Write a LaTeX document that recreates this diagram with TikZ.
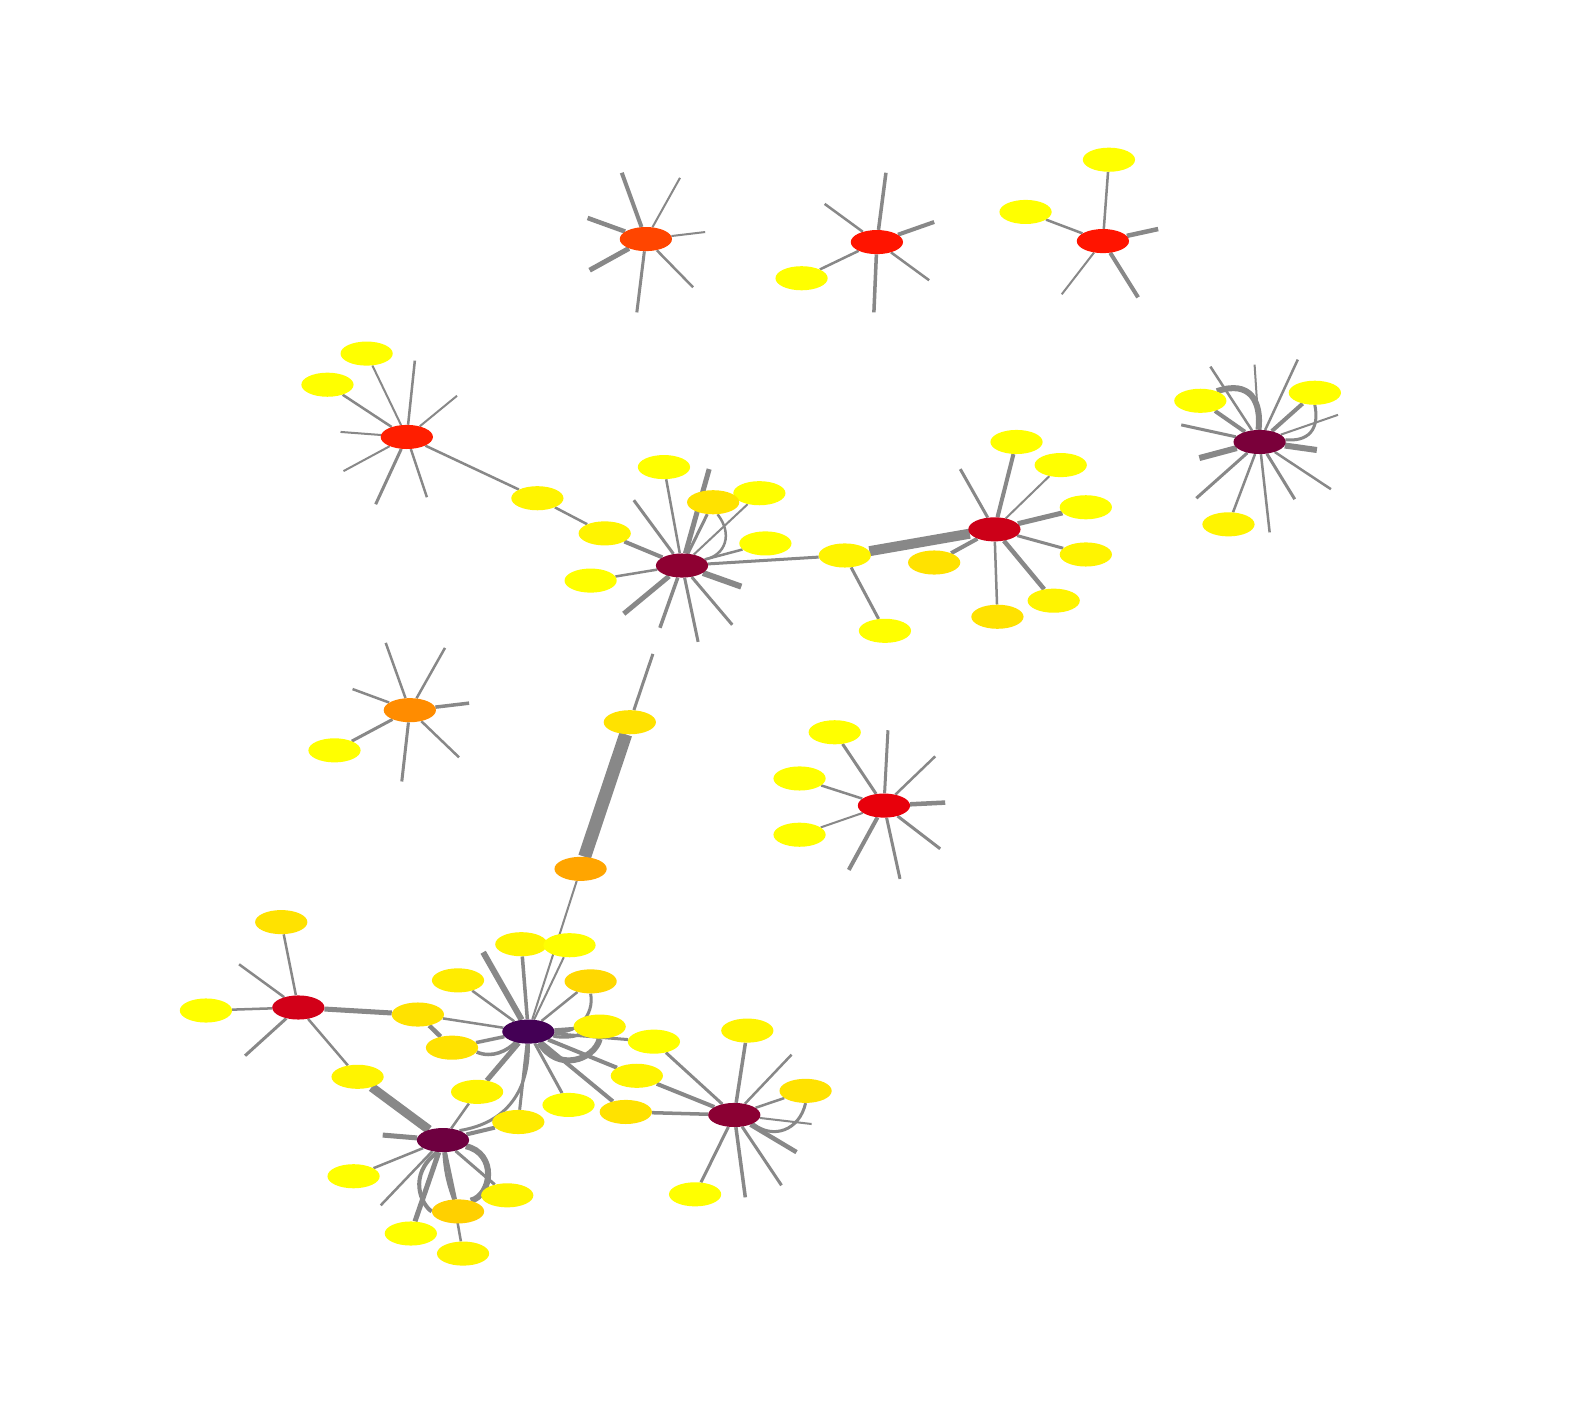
\documentclass[tikz,border=0pt]{standalone}
\usetikzlibrary{shapes.geometric,backgrounds}
\definecolor{edgec}{HTML}{888888}
\definecolor{cA}{HTML}{FF4500}
\definecolor{cB}{HTML}{FF1400}
\definecolor{cD}{HTML}{FF1E00}
\definecolor{cE}{HTML}{8E0032}
\definecolor{cG}{HTML}{CC0018}
\definecolor{cH}{HTML}{7A003A}
\definecolor{cI}{HTML}{FF8C00}
\definecolor{cJ}{HTML}{E8000B}
\definecolor{cK}{HTML}{D20018}
\definecolor{cF}{HTML}{440055}
\definecolor{cL}{HTML}{8B0033}
\definecolor{cM}{HTML}{6E0040}
\definecolor{yA}{HTML}{FFFF00}
\definecolor{yB}{HTML}{FFF400}
\definecolor{yC}{HTML}{FFEC00}
\definecolor{gA}{HTML}{FFE200}
\definecolor{gB}{HTML}{FFD800}
\definecolor{gC}{HTML}{FFD000}
\definecolor{oA}{HTML}{FFA500}
\newcommand\ed[3]{\draw[edge,line width=#1pt] (#2) -- (#3);}
\newcommand\fan[2]{\foreach \x/\y/\w [count=\i] in {#2} {\coordinate (#1x\i) at (\x,\y); \draw[edge,line width=\w pt] (#1) -- (#1x\i);}}
\begin{document}
\begin{tikzpicture}[x=1pt,y=-1pt,
  nd/.style={ellipse,minimum width=52pt,minimum height=24pt,inner sep=0pt,draw=none},
  edge/.style={draw=edgec}]
\useasboundingbox (0,0) rectangle (1568,1409);
% hubs
\node[nd,fill=cA] (A) at (643,238) {};
\node[nd,fill=cB] (B) at (873,241) {};
\node[nd,fill=cB] (C) at (1098,240) {};
\node[nd,fill=cD] (D) at (405,435) {};
\node[nd,fill=cE] (E) at (679,563) {};
\node[nd,fill=cG] (G) at (990,527) {};
\node[nd,fill=cH] (H) at (1254,440) {};
\node[nd,fill=cI] (I) at (408,707) {};
\node[nd,fill=cJ] (J) at (880,802) {};
\node[nd,fill=cK] (K) at (297,1003) {};
\node[nd,fill=cF] (F) at (526,1027) {};
\node[nd,fill=cL] (L) at (731,1110) {};
\node[nd,fill=cM] (M) at (441,1135) {};
% leaves
\node[nd,fill=yA] (b1) at (798,277) {};
\node[nd,fill=yA] (c1) at (1104,159) {};
\node[nd,fill=yA] (c2) at (1021,211) {};
\node[nd,fill=yA] (d1) at (365,352) {};
\node[nd,fill=yA] (d2) at (326,383) {};
\node[nd,fill=yB] (d3) at (535,496) {};
\node[nd,fill=yB] (e1) at (602,531) {};
\node[nd,fill=yA] (e2) at (661,465) {};
\node[nd,fill=yA] (e4) at (756,491) {};
\node[nd,fill=gA] (e3) at (710,500) {};
\node[nd,fill=yA] (e5) at (762,541) {};
\node[nd,fill=yA] (e6) at (588,578) {};
\node[nd,fill=yB] (g1) at (841,553) {};
\node[nd,fill=yA] (g2) at (1012,440) {};
\node[nd,fill=yA] (g3) at (1056,463) {};
\node[nd,fill=yA] (g4) at (1081,505) {};
\node[nd,fill=yB] (g5) at (1081,552) {};
\node[nd,fill=gA] (g6) at (930,560) {};
\node[nd,fill=gA] (g7) at (993,614) {};
\node[nd,fill=yB] (g8) at (1049,598) {};
\node[nd,fill=yA] (g9) at (881,628) {};
\node[nd,fill=yA] (h1) at (1195,399) {};
\node[nd,fill=yA] (h2) at (1309,391) {};
\node[nd,fill=yB] (h3) at (1223,522) {};
\node[nd,fill=gA] (f0) at (627,719) {};
\node[nd,fill=oA] (o1) at (578,865) {};
\node[nd,fill=yA] (i1) at (333,747) {};
\node[nd,fill=yA] (j1) at (831,729) {};
\node[nd,fill=yA] (j2) at (796,775) {};
\node[nd,fill=yA] (j3) at (796,831) {};
\node[nd,fill=gA] (k1) at (280,918) {};
\node[nd,fill=yA] (k2) at (205,1006) {};
\node[nd,fill=gA] (k3) at (416,1010) {};
\node[nd,fill=yB] (k4) at (356,1072) {};
\node[nd,fill=yB] (f1) at (519,940) {};
\node[nd,fill=yA] (f2) at (567,941) {};
\node[nd,fill=yC] (f3) at (456,976) {};
\node[nd,fill=gB] (f4) at (588,977) {};
\node[nd,fill=gA] (f5) at (450,1043) {};
\node[nd,fill=yB] (f6) at (597,1022) {};
\node[nd,fill=yA] (f7) at (651,1037) {};
\node[nd,fill=yB] (f8) at (634,1071) {};
\node[nd,fill=yB] (f9) at (475,1087) {};
\node[nd,fill=yA] (f10) at (566,1100) {};
\node[nd,fill=gA] (f11) at (623,1107) {};
\node[nd,fill=yC] (f12) at (516,1117) {};
\node[nd,fill=yB] (l1) at (744,1026) {};
\node[nd,fill=gA] (l2) at (802,1086) {};
\node[nd,fill=yA] (l3) at (692,1189) {};
\node[nd,fill=yA] (m1) at (352,1171) {};
\node[nd,fill=yA] (m2) at (409,1228) {};
\node[nd,fill=gC] (m3) at (456,1206) {};
\node[nd,fill=yB] (m4) at (461,1248) {};
\node[nd,fill=yB] (m5) at (505,1190) {};
\begin{pgfonlayer}{background}
\fill[white] (0,0) rectangle (1568,1409);
\fan{A}{619/172/4, 677/177/2, 585/217/4.5, 702/231/2, 587/269/5, 634/311/3, 690/286/2.5}
\fan{B}{882/172/3.5, 821/203/2.5, 930/221/4, 870/311/3.5, 925/279/2.5}
\ed{2.5}{B}{b1}
\fan{C}{1153/228/4.5, 1057/293/2, 1133/296/4}
\ed{2.5}{C}{c1} \ed{2.5}{C}{c2}
\fan{D}{413/359/2.5, 455/394/2, 339/430/2, 342/469/2, 374/502/3, 425/495/2.5}
\ed{2}{D}{d1} \ed{2.5}{D}{d2} \ed{2.5}{D}{d3}
\ed{2.5}{d3}{e1} \ed{4}{e1}{E}
\fan{E}{706/467/5, 631/498/3, 738/584/6, 729/622/3, 695/639/3, 657/625/3.5, 621/611/5}
\ed{2.5}{E}{e2} \ed{3}{E}{e3} \ed{2}{E}{e4} \ed{2.5}{E}{e5} \ed{3}{E}{g1} \ed{2.5}{E}{e6}
\draw[edge,line width=2.5pt] (e3.290) .. controls (730,532) and (722,553) .. (E.15);
\fan{f0}{650/651/3}
\ed{13}{f0}{o1} \ed{2}{o1}{F}
\fan{G}{956/467/3}
\ed{10}{g1}{G} \ed{4}{G}{g2} \ed{2}{G}{g3} \ed{5}{G}{g4} \ed{3}{G}{g5} \ed{4}{G}{g6} \ed{2.5}{G}{g7} \ed{4.5}{G}{g8} \ed{3}{g1}{g9}
\fan{H}{1205/365/2.5, 1249/363/2, 1292/358/2.5, 1176/423/3, 1332/413/2, 1194/456/6, 1311/448/6, 1191/496/3, 1289/497/3, 1325/487/2.5, 1264/530/2.5}
\ed{4}{H}{h1} \ed{4}{H}{h2} \ed{2.5}{H}{h3}
\draw[edge,line width=6pt] (h1.30) .. controls (1245,378) and (1256,400) .. (H.95);
\draw[edge,line width=3pt] (h2.270) .. controls (1314,428) and (1302,440) .. (H.5);
\fan{I}{384/640/2.5, 443/645/2.5, 351/686/2.5, 467/700/3.5, 400/778/3, 457/754/2.5}
\ed{3}{I}{i1}
\fan{J}{884/727/3, 931/753/2.5, 941/799/4.5, 936/845/3, 896/875/3, 845/866/4}
\ed{3}{J}{j1} \ed{2.5}{J}{j2} \ed{2}{J}{j3}
\fan{K}{238/960/2.5, 244/1051/3}
\ed{2.5}{K}{k1} \ed{2.5}{K}{k2} \ed{5}{K}{k3} \ed{2.5}{K}{k4}
\fan{F}{481/948/6}
\ed{2.5}{F}{k3} \ed{4.5}{k3}{f5}
\ed{3.5}{F}{f1} \ed{2}{F}{f2} \ed{2.5}{F}{f3} \ed{2.5}{F}{f4}
\draw[edge,line width=3pt] (f4.south) .. controls (592,1010) and (575,1030) .. (F.east);
\ed{3.5}{F}{f5}
\draw[edge,line width=3.5pt] (f5.-10) .. controls (490,1054) and (505,1046) .. (F.220);
\ed{3}{F}{f6}
\draw[edge,line width=3pt] (F.-10) .. controls (560,1034) and (575,1032) .. (f6.200);
\draw[edge,line width=6pt] (F.-45) .. controls (555,1068) and (592,1055) .. (f6.south);
\ed{3}{F}{f7} \ed{4}{F}{f8} \ed{3}{F}{f10} \ed{4}{F}{f11} \ed{3}{F}{f12} \ed{5}{F}{f9}
\draw[edge,line width=3pt] (F.south) .. controls (527,1085) and (505,1118) .. (M.30);
\fan{L}{788/1050/2.5, 808/1119/2, 793/1147/4.5, 778/1180/3, 742/1192/3.5}
\ed{3.5}{L}{l1} \ed{2.5}{L}{l2} \ed{3}{L}{l3} \ed{3}{L}{f7} \ed{4}{L}{f8} \ed{3.5}{L}{f11}
\draw[edge,line width=3pt] (l2.south) .. controls (796,1125) and (770,1135) .. (L.-25);
\fan{M}{381/1130/5, 379/1200/2.5}
\ed{9}{M}{k4} \ed{2.5}{M}{m1} \ed{5}{M}{m2} \ed{3}{M}{m3} \ed{2.5}{M}{m4} \ed{3}{M}{m5} \ed{4}{M}{f12} \ed{2.5}{M}{f9}
\draw[edge,line width=3pt] (M) to[bend right=8] (m3);
\draw[edge,line width=6pt] (M.-15) .. controls (495,1148) and (490,1190) .. (m3.40);
\draw[edge,line width=4pt] (M.245) .. controls (405,1170) and (420,1200) .. (m3.west);
\end{pgfonlayer}
\end{tikzpicture}
\end{document}
